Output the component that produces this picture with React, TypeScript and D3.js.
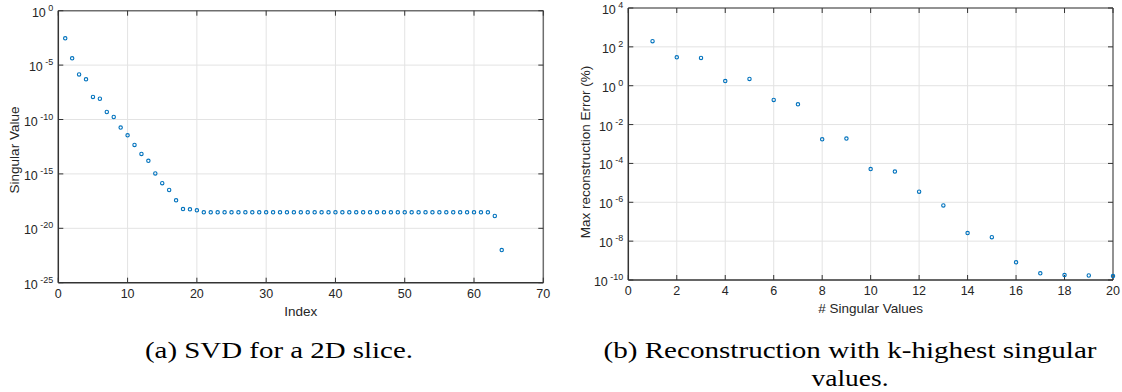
import * as d3 from 'd3'

// singular values of a 2D slice, index 1..64
const svdIndex = d3.range(1, 65)
const svdValues = [
  2.9e-3, 4.2e-5, 1.4e-6, 4.9e-7, 1.2e-8, 8.1e-9, 4.9e-10, 1.7e-10, 1.8e-11, 3.5e-12,
  4.6e-13, 6.8e-14, 1.6e-14, 1.1e-15, 1.4e-16, 3.3e-17, 3.7e-18, 5.9e-19, 5.6e-19, 4.5e-19,
  2.95e-19, 2.95e-19, 2.95e-19, 2.95e-19, 2.95e-19, 2.95e-19, 2.95e-19, 2.95e-19, 2.95e-19, 2.95e-19,
  2.95e-19, 2.95e-19, 2.95e-19, 2.95e-19, 2.95e-19, 2.95e-19, 2.95e-19, 2.95e-19, 2.95e-19, 2.95e-19,
  2.95e-19, 2.95e-19, 2.95e-19, 2.95e-19, 2.95e-19, 2.95e-19, 2.95e-19, 2.95e-19, 2.95e-19, 2.95e-19,
  2.95e-19, 2.95e-19, 2.95e-19, 2.95e-19, 2.95e-19, 2.95e-19, 2.95e-19, 2.95e-19, 2.95e-19, 2.95e-19,
  2.95e-19, 2.95e-19, 1.35e-19, 1.0e-22,
]
const svdXTicks = [0, 10, 20, 30, 40, 50, 60, 70]
const svdYExp = [0, -5, -10, -15, -20, -25]

// max reconstruction error (%) keeping k singular values, k = 1..20
const recK = d3.range(1, 21)
const recError = [
  195, 29, 27, 1.74, 2.24, 0.186, 0.11, 1.74e-3, 1.9e-3, 5.1e-5,
  3.8e-5, 3.5e-6, 6.9e-7, 2.6e-8, 1.6e-8, 8.1e-10, 2.2e-10, 1.8e-10, 1.7e-10, 1.6e-10,
]
const recXTicks = [0, 2, 4, 6, 8, 10, 12, 14, 16, 18, 20]
const recYExp = [4, 2, 0, -2, -4, -6, -8, -10]

const BLUE = '#0072BD'
const SANS = "'Liberation Sans', Arial, Helvetica, sans-serif"
const SERIF = "'Liberation Serif', 'Times New Roman', serif"

interface PanelProps {
  xs: number[]; ys: number[]
  xDomain: [number, number]; yExp: number[]
  xTicks: number[]
  left: number; right: number; top: number; bottom: number
  xLabel: string; yLabel: string
  yLabelX: number; yLabelY: number; xLabelY: number
}

function Panel(p: PanelProps) {
  const x = d3.scaleLinear().domain(p.xDomain).range([p.left, p.right])
  const lo = Math.min(...p.yExp), hi = Math.max(...p.yExp)
  const y = d3.scaleLog().domain([10 ** lo, 10 ** hi]).range([p.bottom, p.top])
  const tl = 5
  return (
    <g>
      {/* grid */}
      {p.xTicks.slice(1, -1).map(t => (
        <line key={'gx' + t} x1={x(t)} x2={x(t)} y1={p.top} y2={p.bottom} stroke="#e3e3e3" strokeWidth={1} />
      ))}
      {p.yExp.filter(e => e !== lo && e !== hi).map(e => (
        <line key={'gy' + e} x1={p.left} x2={p.right} y1={y(10 ** e)} y2={y(10 ** e)} stroke="#e3e3e3" strokeWidth={1} />
      ))}
      {/* box */}
      <line x1={p.left} x2={p.right} y1={p.top} y2={p.top} stroke="#6e6e6e" strokeWidth={1.5} />
      <line x1={p.right} x2={p.right} y1={p.top} y2={p.bottom} stroke="#6e6e6e" strokeWidth={1.5} />
      <line x1={p.left} x2={p.right} y1={p.bottom} y2={p.bottom} stroke="#333" strokeWidth={1.5} />
      <line x1={p.left} x2={p.left} y1={p.top} y2={p.bottom} stroke="#333" strokeWidth={1.5} />
      {/* ticks */}
      {p.xTicks.map(t => (
        <g key={'tx' + t}>
          <line x1={x(t)} x2={x(t)} y1={p.bottom} y2={p.bottom - tl} stroke="#333" />
          <line x1={x(t)} x2={x(t)} y1={p.top} y2={p.top + tl} stroke="#333" />
          <text x={x(t)} y={p.bottom + 15} textAnchor="middle" fontFamily={SANS} fontSize={12.5} fill="#262626">{t}</text>
        </g>
      ))}
      {p.yExp.map(e => (
        <g key={'ty' + e}>
          <line x1={p.left} x2={p.left + tl} y1={y(10 ** e)} y2={y(10 ** e)} stroke="#333" />
          <line x1={p.right} x2={p.right - tl} y1={y(10 ** e)} y2={y(10 ** e)} stroke="#333" />
          <text x={p.left - 5} y={y(10 ** e) + 6} textAnchor="end" fontFamily={SANS} fontSize={12.5} fill="#262626">
            10<tspan dx={2.5} dy={-6} fontSize={9}>{e}</tspan>
          </text>
        </g>
      ))}
      {/* markers */}
      {p.xs.map((v, i) => (
        <circle key={'m' + i} cx={x(v)} cy={y(p.ys[i])} r={1.7} fill="none" stroke={BLUE} strokeWidth={1.1} />
      ))}
      {/* labels */}
      <text x={(p.left + p.right) / 2} y={p.xLabelY} textAnchor="middle" fontFamily={SANS} fontSize={13.5} fill="#262626">{p.xLabel}</text>
      <text transform={`translate(${p.yLabelX},${p.yLabelY}) rotate(-90)`} textAnchor="middle" dominantBaseline="middle"
        fontFamily={SANS} fontSize={13.5} fill="#262626">{p.yLabel}</text>
    </g>
  )
}

export default function App() {
  return (
    <svg width={1122} height={392} style={{ position: 'absolute', left: 0, top: 0, background: '#fff' }}>
      <Panel xs={svdIndex} ys={svdValues} xDomain={[0, 70]} yExp={svdYExp} xTicks={svdXTicks}
        left={58.3} right={543.3} top={10.7} bottom={282.7}
        xLabel="Index" yLabel="Singular Value" yLabelX={15} yLabelY={150} xLabelY={316} />
      <Panel xs={recK} ys={recError} xDomain={[0, 20]} yExp={recYExp} xTicks={recXTicks}
        left={628.3} right={1113} top={8} bottom={280}
        xLabel="# Singular Values" yLabel="Max reconstruction Error (%)" yLabelX={586} yLabelY={152} xLabelY={313} />
      <text x={279} y={358} textAnchor="middle" fontFamily={SERIF} fontSize={23} textLength={268}
        lengthAdjust="spacingAndGlyphs">(a) SVD for a 2D slice.</text>
      <text x={850} y={358} textAnchor="middle" fontFamily={SERIF} fontSize={23} textLength={493}
        lengthAdjust="spacingAndGlyphs">(b) Reconstruction with k-highest singular</text>
      <text x={850} y={386} textAnchor="middle" fontFamily={SERIF} fontSize={23} textLength={77}
        lengthAdjust="spacingAndGlyphs">values.</text>
    </svg>
  )
}
